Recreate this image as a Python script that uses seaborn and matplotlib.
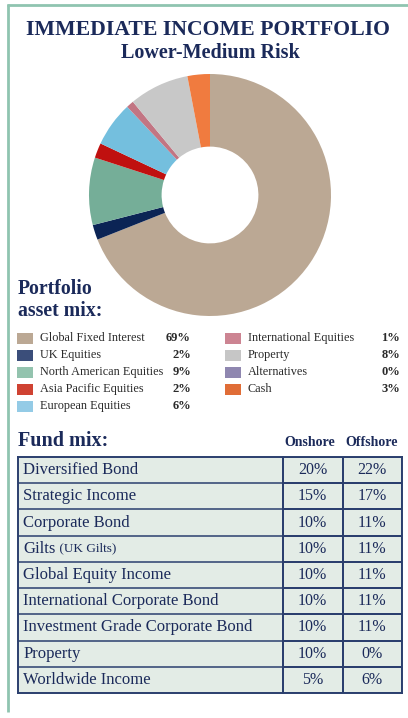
import numpy as np
import pandas as pd
import matplotlib
matplotlib.use("Agg")
import matplotlib.pyplot as plt
from matplotlib.colors import ListedColormap
import seaborn as sns

# --- data ---
assets = ["Global Fixed Interest", "UK Equities", "North American Equities",
          "Asia Pacific Equities", "European Equities", "International Equities",
          "Property", "Alternatives", "Cash"]
weights = [69, 2, 9, 2, 6, 1, 8, 0, 3]
pie_colors = ["#bba894", "#0b2455", "#75ae98", "#c0100f", "#74bfde",
              "#c27583", "#c8c8c8", "#8f87b0", "#f07b3f"]
swatch_colors = ["#bba894", "#3b4e7a", "#93c3ae", "#cf4232", "#94cbe6",
                 "#cc8492", "#c6c6c6", "#8f87b0", "#e06d37"]
# pie draws slices clockwise in this order (alternatives has zero weight)
pie_order = ["Global Fixed Interest", "UK Equities", "North American Equities",
             "Asia Pacific Equities", "European Equities", "International Equities",
             "Alternatives", "Property", "Cash"]

funds = ["Diversified Bond", "Strategic Income", "Corporate Bond", "Gilts",
         "Global Equity Income", "International Corporate Bond",
         "Investment Grade Corporate Bond", "Property", "Worldwide Income"]
onshore = [20, 15, 10, 10, 10, 10, 10, 10, 5]
offshore = [22, 17, 11, 11, 11, 11, 11, 0, 6]

NAVY = "#1b2a5a"
LINE = "#2b3f6e"
FILL = "#e3ece6"
BORDER = "#8fc4b0"

sns.set_theme(style="white")
plt.rcParams["font.family"] = ["Liberation Serif", "DejaVu Serif"]

W, H = 408, 718
fig = plt.figure(figsize=(W / 100, H / 100), dpi=100)


def fx(x):
    return x / W


def fy(y):
    return 1 - y / H


def px_axes(x0, y0, x1, y1):
    return fig.add_axes([fx(x0), fy(y1), fx(x1 - x0), (y1 - y0) / H])


# outer frame: left and top green rules
frame = fig.add_axes([0, 0, 1, 1])
frame.set_xlim(0, W)
frame.set_ylim(H, 0)
frame.axis("off")
frame.plot([7.5, 7.5], [4, 712], color=BORDER, lw=2, solid_capstyle="butt")
frame.plot([7, W], [4.5, 4.5], color=BORDER, lw=2, solid_capstyle="butt")

# titles
fig.text(fx(208), fy(30), "IMMEDIATE INCOME PORTFOLIO", ha="center", va="center",
         fontsize=15.7, fontweight="bold", color=NAVY)
fig.text(fx(210), fy(53), "Lower-Medium Risk", ha="center", va="center",
         fontsize=14.5, fontweight="bold", color=NAVY)

# donut
pie_df = pd.DataFrame({"asset": assets, "weight": weights, "color": pie_colors}).set_index("asset")
pie_df = pie_df.loc[pie_order]
ax_pie = px_axes(89, 74, 331, 316)
ax_pie.pie(pie_df["weight"], colors=pie_df["color"], startangle=90, counterclock=False,
           radius=1, wedgeprops=dict(width=0.6, linewidth=0))
ax_pie.set_xlim(-1, 1)
ax_pie.set_ylim(-1, 1)
ax_pie.set_aspect("equal")
ax_pie.axis("off")

# legend
fig.text(fx(18), fy(289), "Portfolio", ha="left", va="center",
         fontsize=14.2, fontweight="bold", color=NAVY)
fig.text(fx(18), fy(311), "asset mix:", ha="left", va="center",
         fontsize=14.2, fontweight="bold", color=NAVY)
row_y = [338, 355, 372, 389, 406]
for i, (name, w, c) in enumerate(zip(assets, weights, swatch_colors)):
    col, r = (0, i) if i < 5 else (1, i - 5)
    sx = 17 if col == 0 else 225
    tx = 40 if col == 0 else 248
    vx = 191 if col == 0 else 400
    y = row_y[r]
    frame.add_patch(plt.Rectangle((sx, y - 5.5), 16, 11, color=c, lw=0))
    frame.text(tx, y, name, ha="left", va="center", fontsize=8.8, color="#2a2a2a")
    frame.text(vx, y, f"{w}%", ha="right", va="center", fontsize=9,
               fontweight="bold", color="#2a2a2a")

# fund mix table
fig.text(fx(18), fy(441), "Fund mix:", ha="left", va="center",
         fontsize=14.5, fontweight="bold", color=NAVY)
fig.text(fx(310), fy(442), "Onshore", ha="center", va="center",
         fontsize=10, fontweight="bold", color=NAVY)
fig.text(fx(372), fy(442), "Offshore", ha="center", va="center",
         fontsize=10, fontweight="bold", color=NAVY)

n = len(funds)
ax_names = px_axes(18, 457, 283, 693)
ax_names.set_facecolor(FILL)
ax_names.set_xlim(0, 1)
ax_names.set_ylim(n, 0)
ax_names.set_xticks([])
ax_names.set_yticks([])
ax_names.hlines(np.arange(1, n), 0, 1, color=LINE, lw=1.1)
for s in ax_names.spines.values():
    s.set_visible(True)
    s.set_color(LINE)
    s.set_linewidth(1.4)
for i, f in enumerate(funds):
    t = ax_names.text(0.02, i + 0.5, f, ha="left", va="center", fontsize=12, color=NAVY)
    if f == "Gilts":
        ax_names.annotate(" (UK Gilts)", xycoords=t, xy=(1, 0.5), va="center",
                          ha="left", fontsize=9.5, color=NAVY)

vals = pd.DataFrame({"Onshore": onshore, "Offshore": offshore}, index=funds)
labels = vals.map(lambda v: f"{v}%").values
ax_vals = px_axes(283, 457, 402, 693)
sns.heatmap(np.zeros(vals.shape), ax=ax_vals, cmap=ListedColormap([FILL]), cbar=False,
            annot=labels, fmt="", annot_kws=dict(fontsize=11.5, color=NAVY),
            linewidths=1.1, linecolor=LINE, xticklabels=False, yticklabels=False)
for s in ax_vals.spines.values():
    s.set_visible(True)
    s.set_color(LINE)
    s.set_linewidth(1.4)

fig.savefig("out.png", dpi=100)
